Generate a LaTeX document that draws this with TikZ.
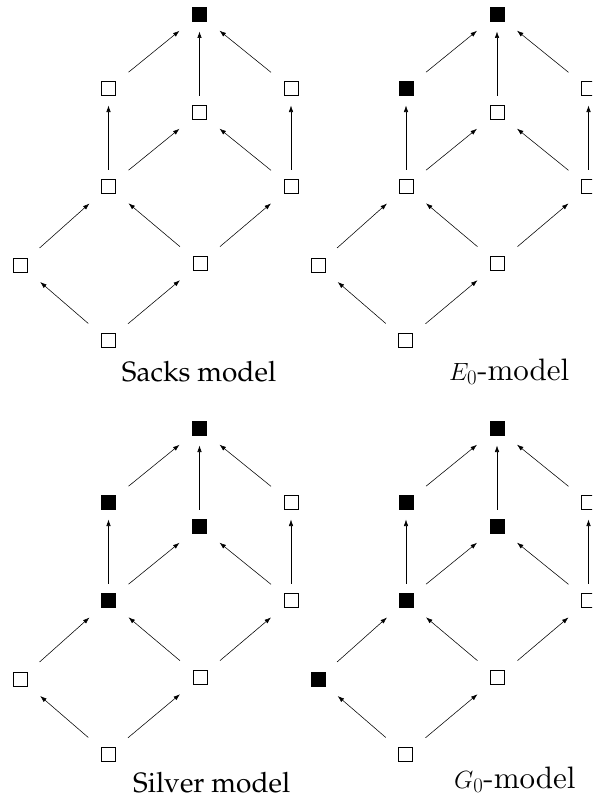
\documentclass[tikz,border=0pt]{standalone}
\usepackage[T1]{fontenc}
\usepackage{palatino}
\usetikzlibrary{arrows.meta}
\tikzset{
  sqbase/.style={rectangle, minimum size=14pt, inner sep=0pt, line width=0.9pt, outer xsep=13pt, outer ysep=10pt},
  sqe/.style={sqbase, draw=black, fill=white},
  sqf/.style={sqbase, draw=black, fill=black},
  arr/.style={-{Latex[length=6.5pt,width=4.5pt]}, line width=0.55pt},
  lab/.style={inner sep=0pt, anchor=base west, font=\fontsize{28}{34}\selectfont},
  labm/.style={inner sep=0pt, anchor=base west, font=\fontsize{31}{37}\selectfont}
}
\font\cmmodelfont=cmr10 at 31pt
\newcommand\cmtext[1]{{\cmmodelfont #1}}
\newcommand\lattice[8]{%
\begin{scope}[shift={(#2,#3)}]
\node[#4] (#1T) at (199.5,14.5) {};
\node[#5] (#1UL) at (108.5,88.5) {};
\node[#6] (#1UM) at (199.5,112.5) {};
\node[sqe] (#1UR) at (291,88.5) {};
\node[#7] (#1ML) at (108.5,186.5) {};
\node[sqe] (#1MR) at (291,186.5) {};
\node[#8] (#1LL) at (20.5,265) {};
\node[sqe] (#1LM) at (200,263.5) {};
\node[sqe] (#1B) at (108,340.5) {};
\draw[arr] (#1B) -- (#1LL);
\draw[arr] (#1B) -- (#1LM);
\draw[arr] (#1LL) -- (#1ML);
\draw[arr] (#1LM) -- (#1ML);
\draw[arr] (#1LM) -- (#1MR);
\draw[arr] (#1ML) -- (#1UL);
\draw[arr] (#1ML) -- (#1UM);
\draw[arr] (#1MR) -- (#1UM);
\draw[arr] (#1MR) -- (#1UR);
\draw[arr] (#1UL) -- (#1T);
\draw[arr] (#1UM) -- (#1T);
\draw[arr] (#1UR) -- (#1T);
\end{scope}}
\begin{document}
\begin{tikzpicture}[x=1pt,y=-1pt]
\useasboundingbox (0,0) rectangle (592,800);
\clip (0,0) rectangle (592,800);
\lattice{a}{0}{0}{sqf}{sqe}{sqe}{sqe}{sqe}
\lattice{b}{297.5}{0}{sqf}{sqf}{sqe}{sqe}{sqe}
\lattice{c}{0}{414}{sqf}{sqf}{sqf}{sqf}{sqe}
\lattice{d}{297.5}{414}{sqf}{sqf}{sqf}{sqf}{sqf}
\node[lab] (la) at (121.7,381) {Sacks model};
\node[labm] (lb) at (449,380) {$E_0$\cmtext{-model}};
\node[lab] (lc) at (133,792) {Silver model};
\node[labm] (ld) at (454,788) {$G_0$\cmtext{-model}};
\end{tikzpicture}
\end{document}
